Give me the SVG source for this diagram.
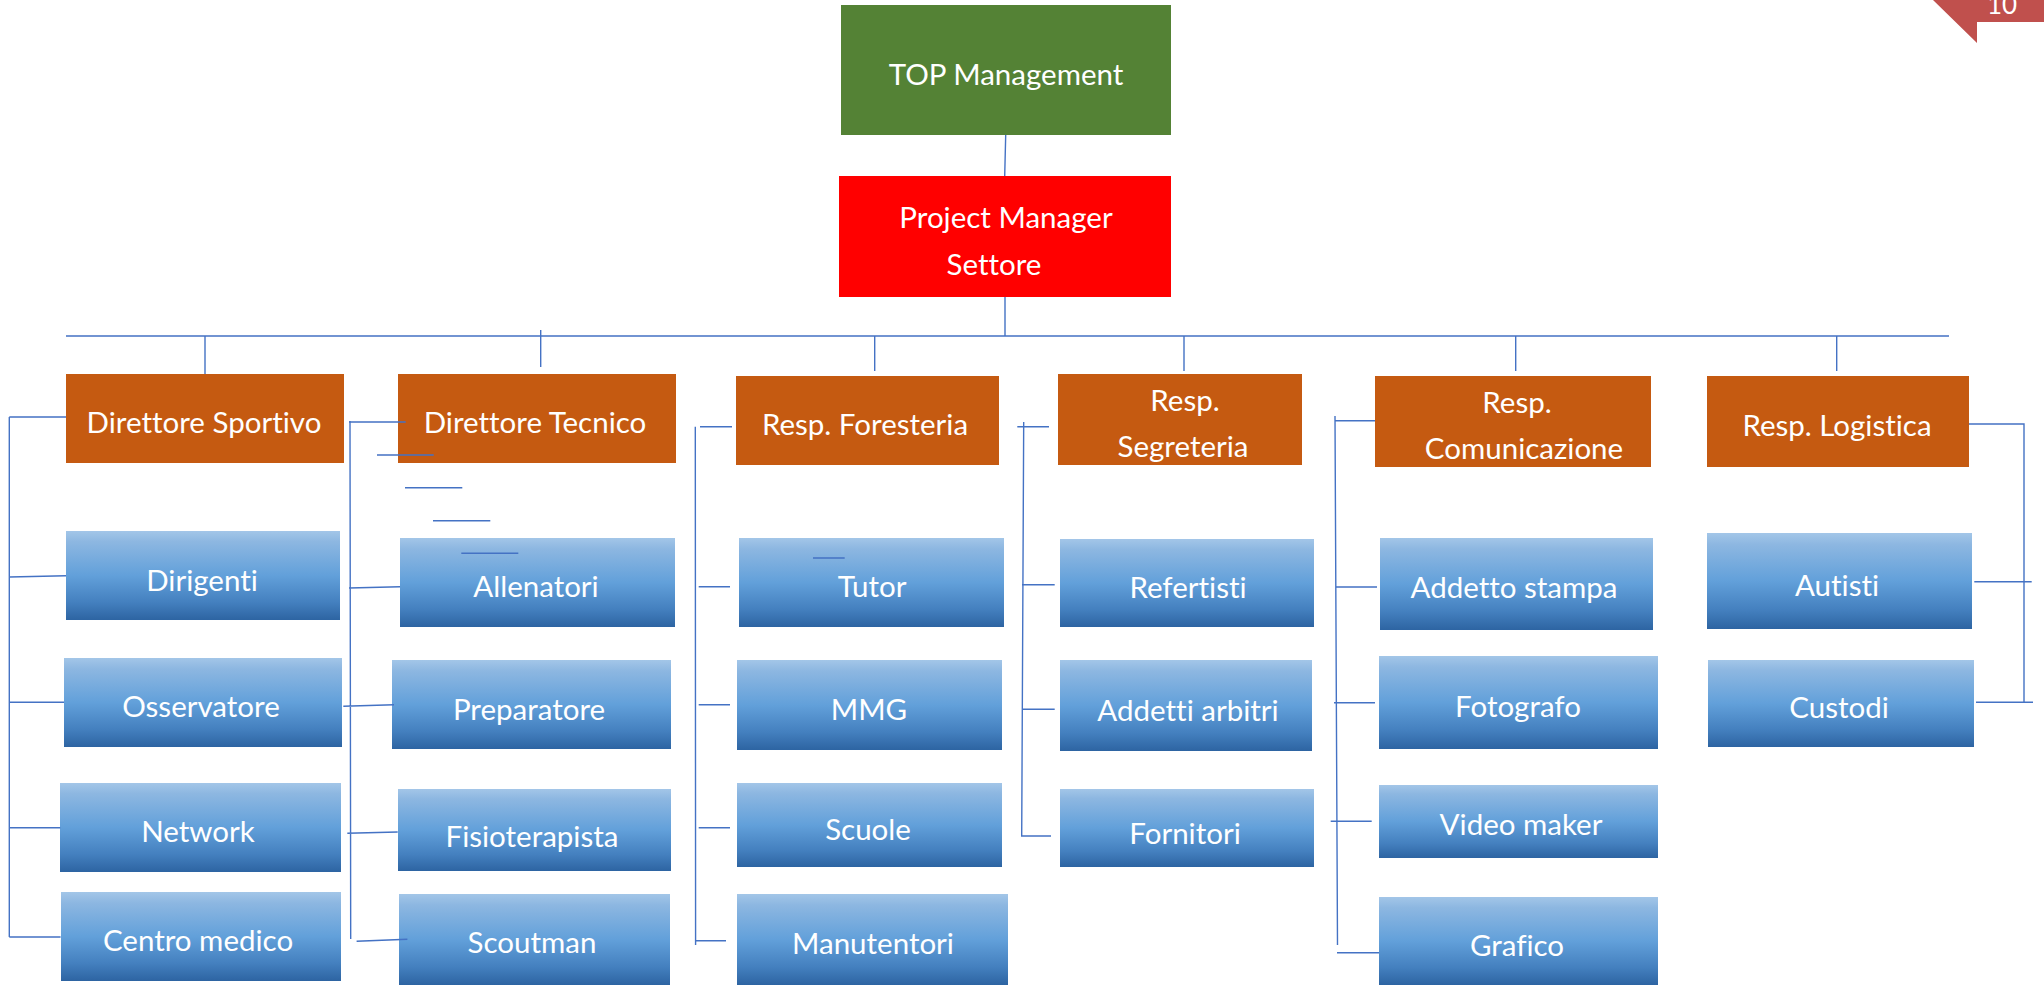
<svg xmlns="http://www.w3.org/2000/svg" width="2044" height="985" viewBox="0 0 2044 985">
<defs>
<linearGradient id="blue" x1="0" y1="0" x2="0" y2="1">
<stop offset="0" stop-color="#A3C6E8"/>
<stop offset="0.12" stop-color="#8DB7E1"/>
<stop offset="0.5" stop-color="#62A0DA"/>
<stop offset="0.8" stop-color="#4480BF"/>
<stop offset="1" stop-color="#2D64A2"/>
</linearGradient>
<style>
.ln{fill:none;stroke:#4472C4;stroke-width:1.4}
.t{font-family:Lato,"Open Sans","Liberation Sans",sans-serif;font-size:29.5px;fill:#FFFFFF;text-anchor:middle;font-variant-ligatures:none;font-feature-settings:"liga" 0,"clig" 0}
.or{fill:#C55A11}
.bl{fill:url(#blue)}
</style>
</defs>
<rect width="2044" height="985" fill="#FFFFFF"/>

<g id="page-corner">
<polygon points="1933,0 1977,43 1977,22 2044,22 2044,0" fill="#C0504D"/>
<text x="2002" y="14" font-family="Lato,'Liberation Sans',sans-serif" font-size="26" fill="#FFFFFF" text-anchor="middle">10</text>
</g>

<g id="top-management">
<rect x="841" y="5" width="330" height="130" fill="#548235"/>
<text class="t" x="1006" y="85">TOP Management</text>
</g>
<g id="project-manager">
<rect x="839" y="176" width="332" height="121" fill="#FF0000"/>
<text class="t" x="1006" y="228">Project Manager</text>
<text class="t" x="994" y="275">Settore</text>
</g>

<g id="direttore-sportivo">
<rect class="or" x="66" y="374" width="278" height="89"/>
<text class="t" x="204" y="433">Direttore Sportivo</text>
</g>
<g id="direttore-tecnico">
<rect class="or" x="398" y="374" width="278" height="89"/>
<text class="t" x="535" y="433">Direttore Tecnico</text>
</g>
<g id="resp-foresteria">
<rect class="or" x="736" y="376" width="263" height="89"/>
<text class="t" x="865" y="435">Resp. Foresteria</text>
</g>
<g id="resp-segreteria">
<rect class="or" x="1058" y="374" width="244" height="91"/>
<text class="t" x="1185" y="411">Resp.</text>
<text class="t" x="1183" y="457">Segreteria</text>
</g>
<g id="resp-comunicazione">
<rect class="or" x="1375" y="376" width="276" height="91"/>
<text class="t" x="1517" y="413">Resp.</text>
<text class="t" x="1524" y="459">Comunicazione</text>
</g>
<g id="resp-logistica">
<rect class="or" x="1707" y="376" width="262" height="91"/>
<text class="t" x="1837" y="436">Resp. Logistica</text>
</g>

<g id="dirigenti"><rect class="bl" x="66" y="531" width="274" height="89"/><text class="t" x="202" y="591">Dirigenti</text></g>
<g id="osservatore"><rect class="bl" x="64" y="658" width="278" height="89"/><text class="t" x="201" y="717">Osservatore</text></g>
<g id="network"><rect class="bl" x="60" y="783" width="281" height="89"/><text class="t" x="198" y="842">Network</text></g>
<g id="centro-medico"><rect class="bl" x="61" y="892" width="280" height="89"/><text class="t" x="198" y="951">Centro medico</text></g>

<g id="allenatori"><rect class="bl" x="400" y="538" width="275" height="89"/><text class="t" x="536" y="597">Allenatori</text></g>
<g id="preparatore"><rect class="bl" x="392" y="660" width="279" height="89"/><text class="t" x="529" y="720">Preparatore</text></g>
<g id="fisioterapista"><rect class="bl" x="398" y="789" width="273" height="82"/><text class="t" x="532" y="847">Fisioterapista</text></g>
<g id="scoutman"><rect class="bl" x="399" y="894" width="271" height="91"/><text class="t" x="532" y="953">Scoutman</text></g>

<g id="tutor"><rect class="bl" x="739" y="538" width="265" height="89"/><text class="t" x="872" y="597">Tutor</text></g>
<g id="mmg"><rect class="bl" x="737" y="660" width="265" height="90"/><text class="t" x="869" y="720">MMG</text></g>
<g id="scuole"><rect class="bl" x="737" y="783" width="265" height="84"/><text class="t" x="868" y="840">Scuole</text></g>
<g id="manutentori"><rect class="bl" x="737" y="894" width="271" height="91"/><text class="t" x="873" y="954">Manutentori</text></g>

<g id="refertisti"><rect class="bl" x="1060" y="539" width="254" height="88"/><text class="t" x="1188" y="598">Refertisti</text></g>
<g id="addetti-arbitri"><rect class="bl" x="1060" y="660" width="252" height="91"/><text class="t" x="1188" y="721">Addetti arbitri</text></g>
<g id="fornitori"><rect class="bl" x="1060" y="789" width="254" height="78"/><text class="t" x="1185" y="844">Fornitori</text></g>

<g id="addetto-stampa"><rect class="bl" x="1380" y="538" width="273" height="92"/><text class="t" x="1514" y="598">Addetto stampa</text></g>
<g id="fotografo"><rect class="bl" x="1379" y="656" width="279" height="93"/><text class="t" x="1518" y="717">Fotografo</text></g>
<g id="video-maker"><rect class="bl" x="1379" y="785" width="279" height="73"/><text class="t" x="1521" y="835">Video maker</text></g>
<g id="grafico"><rect class="bl" x="1379" y="897" width="279" height="88"/><text class="t" x="1517" y="956">Grafico</text></g>

<g id="autisti"><rect class="bl" x="1707" y="533" width="265" height="96"/><text class="t" x="1837" y="596">Autisti</text></g>
<g id="custodi"><rect class="bl" x="1708" y="660" width="266" height="87"/><text class="t" x="1839" y="718">Custodi</text></g>

<g id="connectors">
<path class="ln" d="M1005.7,135 L1004.7,176 M1005,297 L1005,336 M66,336 L1949,336"/>
<path class="ln" d="M205,336 V374 M540.7,330 V367 M874.7,336 V371 M1184,336 V371 M1515.7,336 V371 M1836.7,336 V371"/>
<path class="ln" d="M9.3,417 V937 M9.3,417 H66 M9.3,577 L66,575.7 M9.3,702.3 H64 M9.3,827.7 H60.3 M9.3,937 H60.6"/>
<path class="ln" d="M350,421 L350.7,939 M349,422 H405.7 M349,588 L400,586.7 M343.3,706.3 L394,704.7 M347.3,833.3 L397.7,832 M356.6,941.3 L407.4,939.3"/>
<path class="ln" d="M377,455 H433.7 M405,487.7 H462.3 M433,520.7 H490.3 M461.3,553.3 H518.3"/>
<path class="ln" d="M695.3,426.7 L695.6,945 M700,426.7 H732 M698.7,586.7 H730 M698.7,704.7 H730 M698.7,827.7 H730 M696,940.7 H726 M813,558 H844.7"/>
<path class="ln" d="M1023.7,422 L1021.7,836 M1017.3,426.7 H1049 M1022,584.7 H1054.7 M1022,709.3 H1054.7 M1021,836 H1051"/>
<path class="ln" d="M1335,416 L1337.5,945 M1335,420.7 H1375 M1336,587 H1377 M1334,702.7 H1375 M1330.7,821.3 H1371.7 M1337,952.7 H1379"/>
<path class="ln" d="M1969,424 H2024 V702.3 M1974.3,581.7 H2031.7 M1976,702.3 H2033"/>
</g>
</svg>
